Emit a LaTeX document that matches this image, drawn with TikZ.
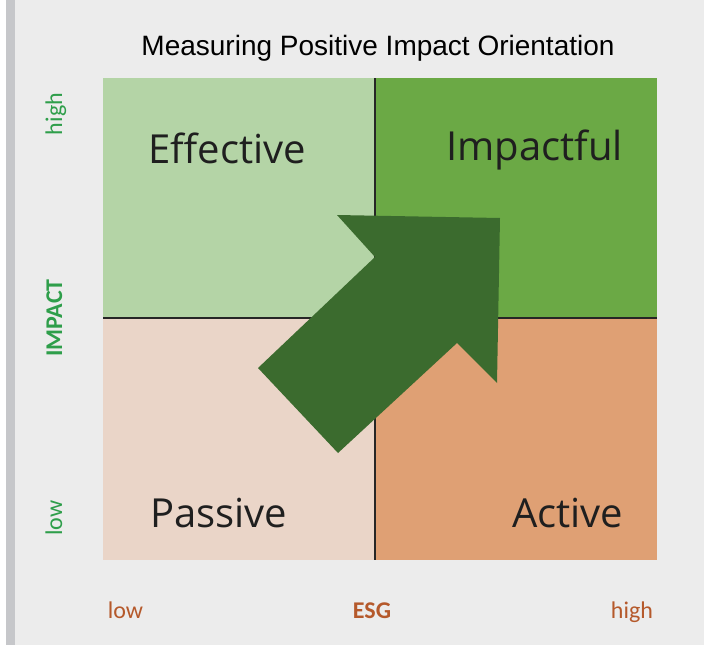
\documentclass[tikz,border=0pt]{standalone}
\usepackage{fontspec}
\setmainfont{Carlito}
\newfontfamily\titlefont{Liberation Sans}
\newfontfamily\quadfont{Open Sans}
\definecolor{bggray}{HTML}{ECECEC}
\definecolor{bargray}{HTML}{C6C7CA}
\definecolor{effgreen}{HTML}{B4D4A6}
\definecolor{impgreen}{HTML}{6BA945}
\definecolor{pasrose}{HTML}{EAD5C8}
\definecolor{actorange}{HTML}{DFA074}
\definecolor{arrowgreen}{HTML}{3B6B2E}
\definecolor{impactgreen}{HTML}{2E9E4A}
\definecolor{esgbrown}{HTML}{B5592B}
\begin{document}
\begin{tikzpicture}[x=1pt,y=-1pt,
  quadlabel/.style={font=\quadfont\fontsize{40}{40}\selectfont, text=black!88, inner sep=0pt, anchor=base west},
  impactlabel/.style={font=\fontsize{24}{24}\selectfont, text=impactgreen, rotate=90, inner sep=0pt, anchor=base},
  esglabel/.style={font=\fontsize{24}{24}\selectfont, text=esgbrown, inner sep=0pt, anchor=base},
  divider/.style={line width=1.2pt, draw=black!85}]
\useasboundingbox (0,0) rectangle (704,645);
\fill[white] (0,0) rectangle (704,645);
\fill[bggray] (15,0) rectangle (704,645);
\fill[bargray] (6,0) rectangle (15,645);
\fill[effgreen] (103.000,78.000) rectangle (375.000,318.000);
\fill[impgreen] (375.000,78.000) rectangle (657.000,318.000);
\fill[pasrose] (103.000,318.000) rectangle (375.000,560.000);
\fill[actorange] (375.000,318.000) rectangle (657.000,560.000);
\draw[divider] (375.000,78.000) -- (375.000,560.000);
\draw[divider] (103.000,318.000) -- (657.000,318.000);
\fill[arrowgreen] (500,218) -- (497,383) -- (457,343) -- (338,453) -- (258,368) -- (375,257) -- (337,215) -- cycle;
\node[font=\titlefont\fontsize{28}{28}\selectfont, inner sep=0pt, anchor=base] (title) at (378,55) {Measuring Positive Impact Orientation};
\node[quadlabel] (effective) at (148,163) {Effective};
\node[quadlabel] (impactful) at (446,160) {Impactful};
\node[quadlabel] (passive) at (150,527) {Passive};
\node[quadlabel] (active) at (512,527) {Active};
\node[impactlabel] (imphigh) at (62,114) {high};
\node[impactlabel, font=\fontsize{24}{24}\selectfont\bfseries] (impact) at (62,318) {IMPACT};
\node[impactlabel] (implow) at (62,518) {low};
\node[esglabel] (esglow) at (125.5,618) {low};
\node[esglabel, font=\fontsize{24}{24}\selectfont\bfseries] (esg) at (372,618) {ESG};
\node[esglabel] (esghigh) at (632,618) {high};
\end{tikzpicture}
\end{document}
